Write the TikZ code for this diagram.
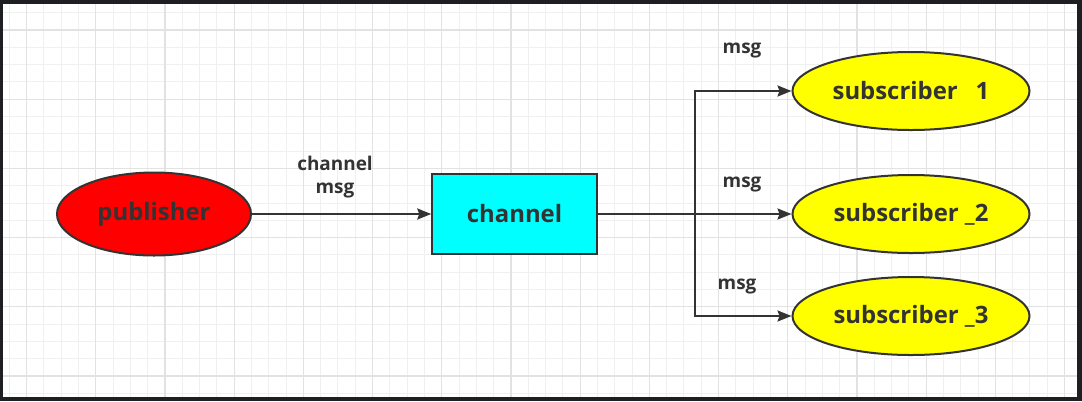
\documentclass[tikz,border=0pt]{standalone}
\usepackage{fontspec}
\setmainfont{Open Sans}
\usetikzlibrary{shapes.geometric,arrows.meta}

\definecolor{framedark}{HTML}{1E1F22}
\definecolor{gridminor}{HTML}{F0F0F0}
\definecolor{gridmajor}{HTML}{E2E2E2}
\definecolor{inkgray}{HTML}{333333}
\definecolor{pubred}{HTML}{FF0000}
\definecolor{subyellow}{HTML}{FFFF00}
\definecolor{chcyan}{HTML}{00FFFF}

\tikzset{
  oval/.style={ellipse, draw=inkgray, line width=2bp, inner sep=0pt,
    font=\fontsize{24}{27}\selectfont\bfseries, text=inkgray},
  subnode/.style={oval, fill=subyellow, minimum width=237bp, minimum height=78bp},
  boxnode/.style={rectangle, draw=inkgray, line width=1.5bp, fill=chcyan,
    minimum width=165bp, minimum height=80bp, inner sep=0pt,
    font=\fontsize{24}{27}\selectfont\bfseries, text=inkgray},
  lbl/.style={font=\fontsize{19}{23}\selectfont\bfseries, text=inkgray, align=center, inner sep=0pt},
  link/.style={draw=inkgray, line width=2bp, -{Stealth[length=14bp, width=11bp, inset=2bp]}}
}

\begin{document}
\begin{tikzpicture}[x=1bp, y=-1bp]

\fill[framedark] (0,0) rectangle (1082,401);
\useasboundingbox (0,0) rectangle (1082,401);
\fill[white] (3,4) rectangle (1077,397);

\begin{scope}
\clip (3,4) rectangle (1077,397);
\foreach \i in {-1,...,62} {
  \draw[gridminor, line width=1bp] (26.5+17.3*\i,4) -- (26.5+17.3*\i,397);
}
\foreach \i in {-2,...,22} {
  \draw[gridminor, line width=1bp] (3,30+17.3*\i) -- (1077,30+17.3*\i);
}
\foreach \i in {0,...,15} {
  \draw[gridmajor, line width=1.2bp] (26.5+69.2*\i,4) -- (26.5+69.2*\i,397);
}
\foreach \i in {0,...,5} {
  \draw[gridmajor, line width=1.2bp] (3,30+69.2*\i) -- (1077,30+69.2*\i);
}
\end{scope}

\node[oval, fill=pubred, minimum width=194bp, minimum height=83bp] (pub) at (154,214) {publisher};
\node[boxnode] (ch) at (514.5,214) {channel};

\node[subnode] (s1) at (911,91) {subscriber\hspace{0.75em}1};
\node[subnode] (s2) at (911,214) {subscriber \_2};
\node[subnode] (s3) at (911,316) {subscriber \_3};

\coordinate (jn) at (695,214);

\node[lbl] (pubmsg) at (335,177) {channel\\msg};
\node[lbl] (m1) at (742,51) {msg};
\node[lbl] (m2) at (742,185) {msg};
\node[lbl] (m3) at (737,287) {msg};

\draw[link] (pub) -- (ch);
\draw[link] (ch.east) -- (jn) |- (s1.west);
\draw[link] (ch.east) -- (s2.west);
\draw[link] (ch.east) -- (jn) |- (s3.west);
\end{tikzpicture}
\end{document}
